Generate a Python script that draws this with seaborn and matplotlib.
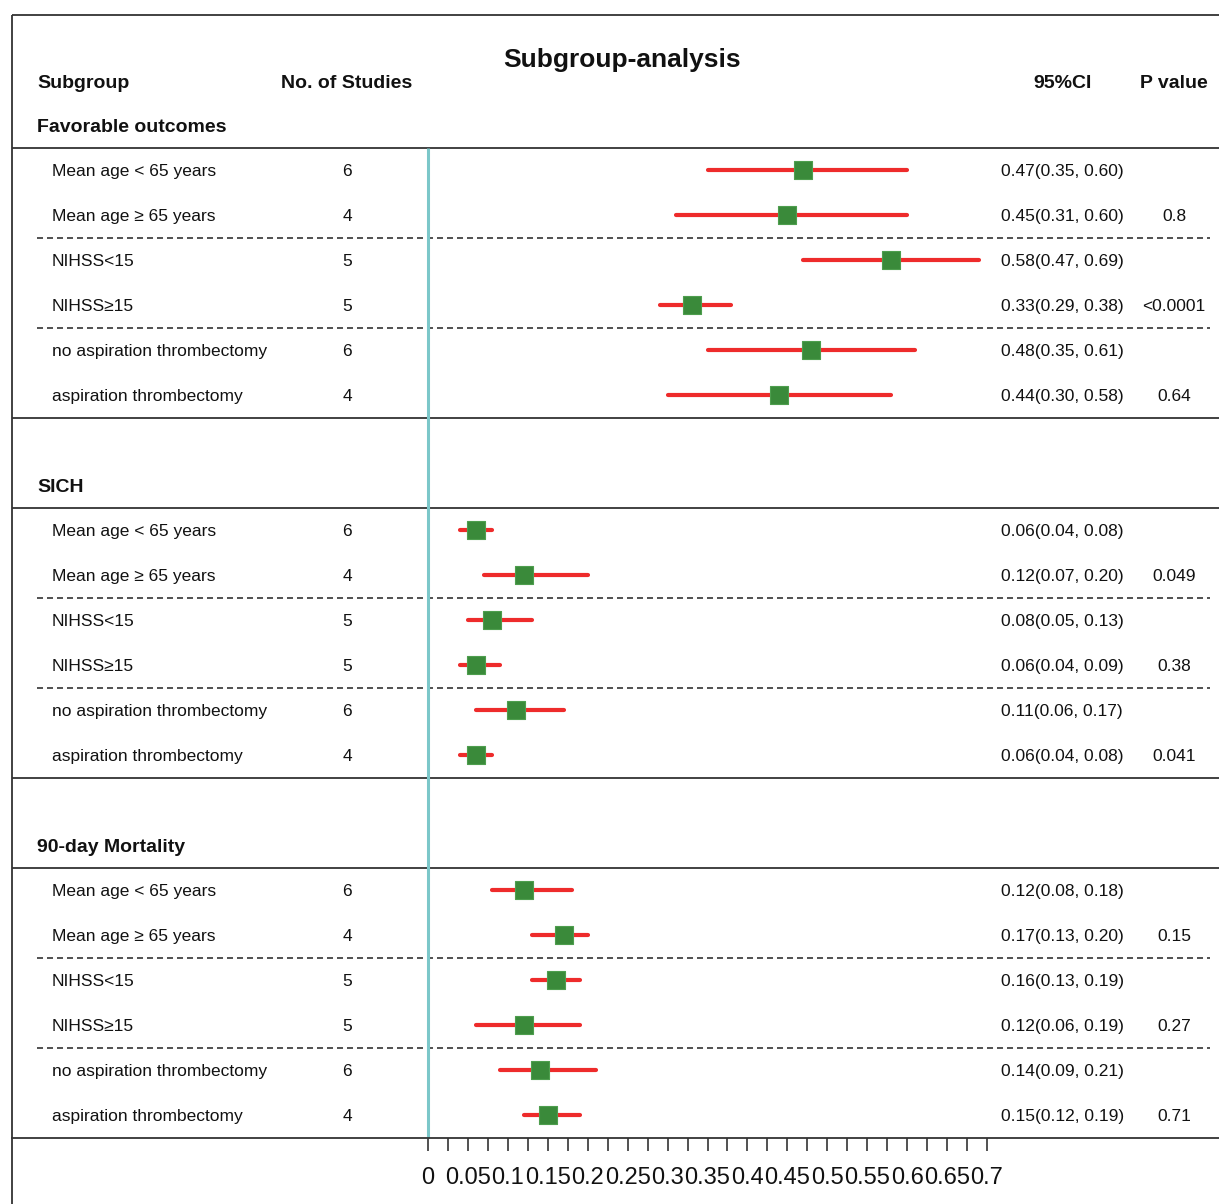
import numpy as np
import pandas as pd
import matplotlib
matplotlib.use("Agg")
import matplotlib.pyplot as plt
import seaborn as sns
from matplotlib.ticker import FixedLocator, FuncFormatter

sns.set_theme(style="white")
plt.rcParams["font.family"] = ["Liberation Sans", "DejaVu Sans"]

# ---------------- data ----------------
groups = ["Favorable outcomes", "SICH", "90-day Mortality"]
subgroups = ["Mean age < 65 years", "Mean age \u2265 65 years", "NIHSS<15",
             "NIHSS\u226515", "no aspiration thrombectomy", "aspiration thrombectomy"]
n_studies = [6, 4, 5, 5, 6, 4]

fav_est = [0.47, 0.45, 0.58, 0.33, 0.48, 0.44]
fav_lo = [0.35, 0.31, 0.47, 0.29, 0.35, 0.30]
fav_hi = [0.60, 0.60, 0.69, 0.38, 0.61, 0.58]
fav_p = ["", "0.8", "", "<0.0001", "", "0.64"]

sich_est = [0.06, 0.12, 0.08, 0.06, 0.11, 0.06]
sich_lo = [0.04, 0.07, 0.05, 0.04, 0.06, 0.04]
sich_hi = [0.08, 0.20, 0.13, 0.09, 0.17, 0.08]
sich_p = ["", "0.049", "", "0.38", "", "0.041"]

mort_est = [0.12, 0.17, 0.16, 0.12, 0.14, 0.15]
mort_lo = [0.08, 0.13, 0.13, 0.06, 0.09, 0.12]
mort_hi = [0.18, 0.20, 0.19, 0.19, 0.21, 0.19]
mort_p = ["", "0.15", "", "0.27", "", "0.71"]

tick_major = np.arange(0, 0.7001, 0.05)
tick_minor = np.arange(0.025, 0.7001, 0.05)

# ---------------- layout helpers (pixel -> data) ----------------
W, H = 1219, 1204
X0 = 428
SCALE = (987 - 428) / 0.7
Y0 = 170
ROW = 45


def vx(px):
    return (px - X0) / SCALE


def ry(py):
    return (py - Y0) / ROW


def base(fs):
    # offset (in rows) from visual centre of capitals to baseline
    return 0.716 * fs * (100 / 72) / 2 / ROW


group_start = [0, 8, 16]
header_rows = [-1, 7, 15]

rows = []
for g, start, est, lo, hi, pv in zip(groups, group_start,
                                     [fav_est, sich_est, mort_est],
                                     [fav_lo, sich_lo, mort_lo],
                                     [fav_hi, sich_hi, mort_hi],
                                     [fav_p, sich_p, mort_p]):
    for i in range(6):
        rows.append(dict(group=g, label=subgroups[i], n=n_studies[i],
                         est=est[i], lo=lo[i], hi=hi[i], p=pv[i], row=start + i))
df = pd.DataFrame(rows)

# ---------------- figure ----------------
fig = plt.figure(figsize=(W / 100, H / 100), dpi=100)
ax = fig.add_axes([0, 0, 1, 1])
ax.set_facecolor("white")

line_c = "#333333"

# frame
ax.vlines(vx(12), ry(15), ry(H), color=line_c, lw=1.3)
ax.hlines(ry(15), vx(12), vx(W), color=line_c, lw=1.3)

# solid separators
for r in [-0.5, 5.5, 7.5, 13.5, 15.5]:
    ax.hlines(r, vx(12), vx(W), color=line_c, lw=1.3)
# dashed separators
for start in group_start:
    for off in [1.5, 3.5]:
        ax.hlines(start + off, vx(37), vx(1210), color=line_c, lw=1.2,
                  linestyles=(0, (3.6, 2.4)))

# null line
ax.vlines(0, -0.5, 21.5, color="#7CC7C9", lw=2.2, zorder=2)

# CIs
ax.hlines(df["row"], df["lo"], df["hi"], color="#EE2B2B", lw=3.0,
          capstyle="round", zorder=3)
# point estimates
sns.scatterplot(data=df, x="est", y="row", marker="s", s=187, color="#3A8A3A",
                edgecolor="#4E9E4E", linewidth=0.8, ax=ax, zorder=4, legend=False)

# texts
tc = "#111111"
FS, FB, FT = 12.5, 14, 19
ax.text(vx(622), ry(58) + base(FT), "Subgroup-analysis", ha="center", va="baseline",
        fontsize=FT, weight="bold", color=tc)
hy = ry(81) + base(FB)
ax.text(vx(37), hy, "Subgroup", ha="left", va="baseline", fontsize=FB, weight="bold", color=tc)
ax.text(vx(347), hy, "No. of Studies", ha="center", va="baseline", fontsize=FB, weight="bold", color=tc)
ax.text(vx(1063), hy, "95%CI", ha="center", va="baseline", fontsize=FB, weight="bold", color=tc)
ax.text(vx(1174), hy, "P value", ha="center", va="baseline", fontsize=FB, weight="bold", color=tc)
for g, hr in zip(groups, header_rows):
    ax.text(vx(37), hr + base(FB), g, ha="left", va="baseline", fontsize=FB,
            weight="bold", color=tc)

for _, d in df.iterrows():
    y = d["row"] + base(FS)
    ax.text(vx(52), y, d["label"], ha="left", va="baseline", fontsize=FS, color=tc)
    ax.text(vx(347), y, str(d["n"]), ha="center", va="baseline", fontsize=FS, color=tc)
    ax.text(vx(1001), y, f"{d['est']:.2f}({d['lo']:.2f}, {d['hi']:.2f})",
            ha="left", va="baseline", fontsize=FS, color=tc)
    if d["p"]:
        ax.text(vx(1174), y, d["p"], ha="center", va="baseline", fontsize=FS, color=tc)

# axis
ax.set_xlim(vx(0), vx(W))
ax.set_ylim(ry(H), ry(0))
ax.set_xlabel("")
ax.set_ylabel("")
for s in ["left", "right", "top"]:
    ax.spines[s].set_visible(False)
sp = ax.spines["bottom"]
sp.set_visible(True)
sp.set_position(("data", 21.5))
sp.set_bounds(vx(12), vx(W))
sp.set_color(line_c)
sp.set_linewidth(1.3)
ax.xaxis.set_major_locator(FixedLocator(tick_major))
ax.xaxis.set_minor_locator(FixedLocator(tick_minor))
ax.xaxis.set_major_formatter(FuncFormatter(lambda v, p: f"{v:g}"))
ax.tick_params(axis="x", which="both", bottom=True, direction="out", length=9.5,
               width=1.2, color=line_c)
ax.tick_params(axis="x", which="major", labelsize=17, pad=12, labelcolor=tc)
ax.set_yticks([])

fig.savefig("out.png", dpi=100)
